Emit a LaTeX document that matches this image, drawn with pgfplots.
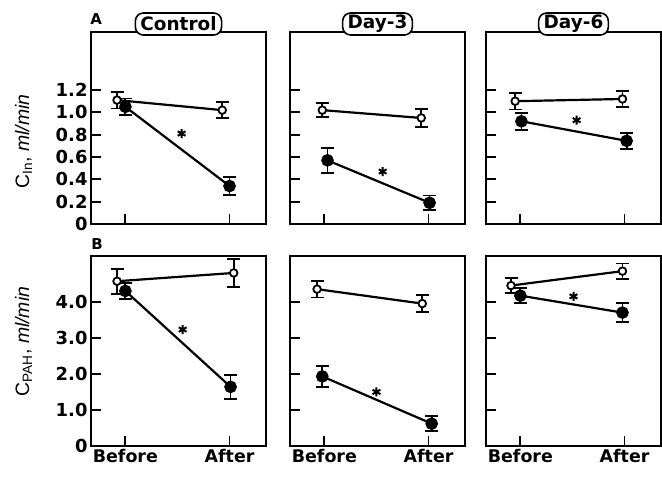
\documentclass[border=0pt]{standalone}
\usepackage{fontspec}
\setmainfont{Liberation Sans}
\newfontfamily\dvs{DejaVu Sans}
\usepackage{pgfplots}
\pgfplotsset{compat=1.18}
\pgfplotsset{
  base/.style={scale only axis, width=175bp, xmin=-0.33, xmax=1.35, ymin=0,
    axis line style={line width=1.8bp}, tick style={line width=1.8bp, black},
    major tick length=10bp, tick align=inside, xtick pos=bottom, ytick pos=left,
    xtick={0,1}, xticklabels={}, yticklabels={},
    yticklabel style={font=\dvs\bfseries\fontsize{18}{18}\selectfont},
    xticklabel style={font=\dvs\bfseries\fontsize{17.5}{17.5}\selectfont},
    /pgf/number format/assume math mode=true,
    clip=false,
    title style={at={(0.5,1)}, anchor=center, yshift=2bp, draw, fill=white, rounded corners=8bp,
      line width=1.6bp, font=\dvs\bfseries\fontsize{18.5}{18.5}\selectfont, minimum height=22bp,
      inner xsep=5bp, inner ysep=2bp}},
  pa/.style={base, height=192bp, ymax=1.72, ytick={0,0.2,0.4,0.6,0.8,1.0,1.2}},
  pb/.style={base, height=190bp, ymax=5.27, ytick={0,1,2,3,4}},
  ser/.style={black, line width=2.2bp,
    error bars/y dir=both, error bars/y explicit,
    error bars/error bar style={line width=1.8bp, black},
    error bars/error mark options={rotate=90, mark size=6.5bp, line width=1.8bp, black}},
  openS/.style={ser, mark=*, mark size=3.8bp, mark options={fill=white, draw=black, line width=1.8bp, solid}},
  fillS/.style={ser, mark=*, mark size=5.2bp, mark options={fill=black, draw=black, solid}},
  astS/.style={only marks, black, mark=asterisk, mark size=4.5bp, mark options={line width=2bp}},
}
\begin{document}
\begin{tikzpicture}
\path[use as bounding box] (0,0) rectangle (662bp,477bp);
% ---------------- Panel A ----------------
\begin{axis}[pa, at={(91bp,253bp)}, anchor=south west, title={Control},
  yticklabels={0,0.2,0.4,0.6,0.8,1.0,1.2},
  ylabel={C\textsubscript{In}, \textit{ml/min}},
  ylabel style={at={(rel axis cs:-0.385,0.43)}, anchor=center, font=\fontsize{19.5}{19.5}\selectfont}]
\addplot[openS] coordinates {(-0.08,1.11) +- (0,0.075) (0.93,1.02) +- (0,0.07)};
\addplot[fillS] coordinates {(0,1.05) +- (0,0.075) (1.0,0.34) +- (0,0.08)};
\addplot[astS] coordinates {(0.54,0.81)};
\node[font=\dvs\bfseries\fontsize{15}{15}\selectfont] at (rel axis cs:0.03,1.07) {A};
\end{axis}
\begin{axis}[pa, at={(290bp,253bp)}, anchor=south west, title={Day-3}]
\addplot[openS] coordinates {(-0.02,1.02) +- (0,0.065) (0.93,0.95) +- (0,0.08)};
\addplot[fillS] coordinates {(0.03,0.57) +- (0,0.11) (1.01,0.19) +- (0,0.065)};
\addplot[astS] coordinates {(0.56,0.47)};
\end{axis}
\begin{axis}[pa, at={(486bp,253bp)}, anchor=south west, title={Day-6}]
\addplot[openS] coordinates {(-0.05,1.10) +- (0,0.075) (0.98,1.12) +- (0,0.07)};
\addplot[fillS] coordinates {(0.01,0.92) +- (0,0.075) (1.02,0.745) +- (0,0.07)};
\addplot[astS] coordinates {(0.54,0.93)};
\end{axis}
% ---------------- Panel B ----------------
\begin{axis}[pb, at={(91bp,31bp)}, anchor=south west,
  yticklabels={0,1.0,2.0,3.0,4.0}, xticklabels={Before,After},
  ylabel={C\textsubscript{PAH}, \textit{ml/min}},
  ylabel style={at={(rel axis cs:-0.385,0.55)}, anchor=center, font=\fontsize{19.5}{19.5}\selectfont}]
\addplot[openS] coordinates {(-0.08,4.57) +- (0,0.35) (1.04,4.80) +- (0,0.39)};
\addplot[fillS] coordinates {(0,4.30) +- (0,0.22) (1.01,1.64) +- (0,0.34)};
\addplot[astS] coordinates {(0.55,3.23)};
\node[font=\dvs\bfseries\fontsize{15}{15}\selectfont] at (rel axis cs:0.035,1.063) {B};
\end{axis}
\begin{axis}[pb, at={(290bp,31bp)}, anchor=south west, xticklabels={Before,After}]
\addplot[openS] coordinates {(-0.07,4.35) +- (0,0.23) (0.94,3.95) +- (0,0.24)};
\addplot[fillS] coordinates {(-0.02,1.93) +- (0,0.29) (1.03,0.62) +- (0,0.21)};
\addplot[astS] coordinates {(0.50,1.50)};
\end{axis}
\begin{axis}[pb, at={(486bp,31bp)}, anchor=south west, xticklabels={Before,After}]
\addplot[openS] coordinates {(-0.09,4.45) +- (0,0.21) (0.98,4.85) +- (0,0.21)};
\addplot[fillS] coordinates {(0,4.17) +- (0,0.21) (0.98,3.70) +- (0,0.26)};
\addplot[astS] coordinates {(0.51,4.15)};
\end{axis}
\end{tikzpicture}
\end{document}
